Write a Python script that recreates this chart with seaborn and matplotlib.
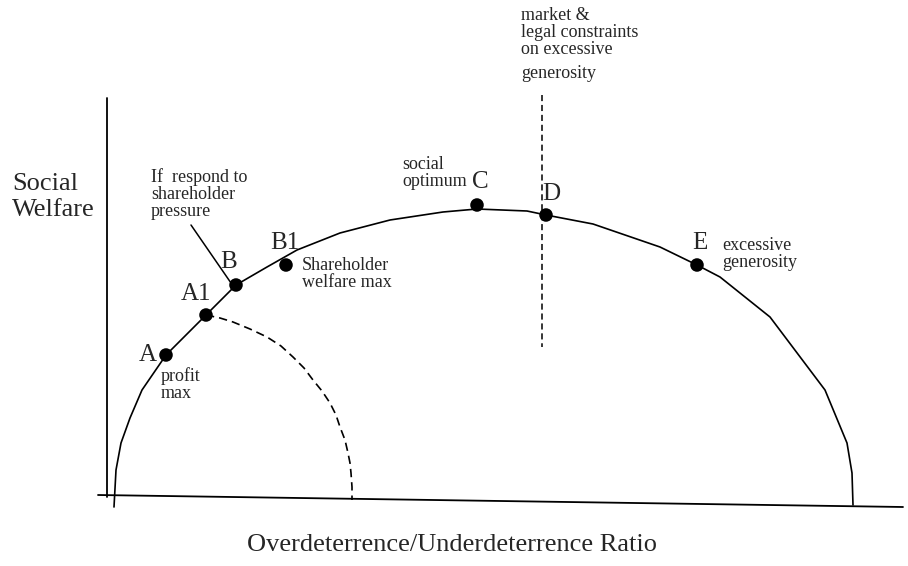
import matplotlib
matplotlib.use("Agg")
import matplotlib.pyplot as plt
import pandas as pd
import seaborn as sns

# ── Data (pixel space: x right, y down) ────────────────────────────────────────
# welfare frontier (solid)
frontier_x = [114, 116, 121, 130, 142, 166, 206, 236, 267, 297, 340, 390, 443, 477,
              527, 546, 593, 660, 697, 720, 770, 825, 847, 852, 853]
frontier_y = [507, 470, 443, 418, 390, 355, 315, 285, 267, 250, 233, 220, 212, 209,
              211, 215, 224, 247, 265, 277, 317, 390, 443, 473, 505]

# shareholder-pressure frontier (dashed)
pressure_x = [206, 220, 233, 250, 267, 281, 293, 304, 313, 322, 330, 336, 340, 345,
              348, 350, 351, 352, 352]
pressure_y = [315, 318, 322, 329, 337, 346, 357, 368, 380, 391, 403, 415, 427, 440,
              453, 463, 473, 487, 500]

# labelled points
point_names = ["A", "A1", "B", "B1", "C", "D", "E"]
point_x = [166, 206, 236, 286, 477, 546, 697]
point_y = [355, 315, 285, 265, 205, 215, 265]

# axes
yaxis_x = [107, 107]
yaxis_y = [98, 497]
xaxis_x = [98, 903]
xaxis_y = [495, 507]

# constraint line
constraint_x = [542, 542]
constraint_y = [95, 347]

# ── Style ────────────────────────────────────────────────────────────────────
sns.set_style("white")
plt.rcParams["font.family"] = ["Liberation Serif", "DejaVu Serif"]

fig = plt.figure(figsize=(9.08, 5.66), dpi=100)
ax = fig.add_axes([0, 0, 1, 1])
ax.set_xlim(0, 908)
ax.set_ylim(566, 0)
ax.axis("off")

def line(xs, ys, **kw):
    sns.lineplot(x=xs, y=ys, sort=False, estimator=None, color="black",
                 legend=False, ax=ax, **kw)

line(yaxis_x, yaxis_y, linewidth=1.3)
line(xaxis_x, xaxis_y, linewidth=1.3)
line(frontier_x, frontier_y, linewidth=1.2)
line(pressure_x, pressure_y, linewidth=1.2)
ax.lines[-1].set_linestyle((0, (5, 3)))
line(constraint_x, constraint_y, linewidth=1.1)
ax.lines[-1].set_linestyle((0, (4, 2.5)))

# pointer from "If respond..." to B
line([191, 231], [225, 283], linewidth=1.1)

pts = pd.DataFrame({"name": point_names, "x": point_x, "y": point_y})
sns.scatterplot(data=pts, x="x", y="y", color="black", s=95, edgecolor="none",
                zorder=5, ax=ax)

# point letters
letter_pos = {"A": (148, 355), "A1": (196, 294), "B": (229, 262), "B1": (285, 243),
              "C": (480, 182), "D": (551, 194), "E": (700, 243)}
for name in point_names:
    lx, ly = letter_pos[name]
    ax.text(lx, ly, name, fontsize=18, ha="center", va="center")

small = dict(fontsize=13, ha="left", va="top", linespacing=1.0)
ax.text(151, 168, "If  respond to\nshareholder\npressure", **small)
ax.text(302, 257, "Shareholder\nwelfare max", **small)
ax.text(161, 367, "profit\nmax", **small)
ax.text(402, 156, "social\noptimum", **small)
ax.text(722, 237, "excessive\ngenerosity", **small)
ax.text(521, 7, "market &\nlegal constraints\non excessive", **small)
ax.text(521, 65, "generosity", **small)

ax.text(12, 197, "Social\nWelfare", fontsize=19, ha="left", va="center",
        linespacing=1.2)
ax.text(452, 545, "Overdeterrence/Underdeterrence Ratio", fontsize=19,
        ha="center", va="center")

fig.savefig("out.png", dpi=100)
